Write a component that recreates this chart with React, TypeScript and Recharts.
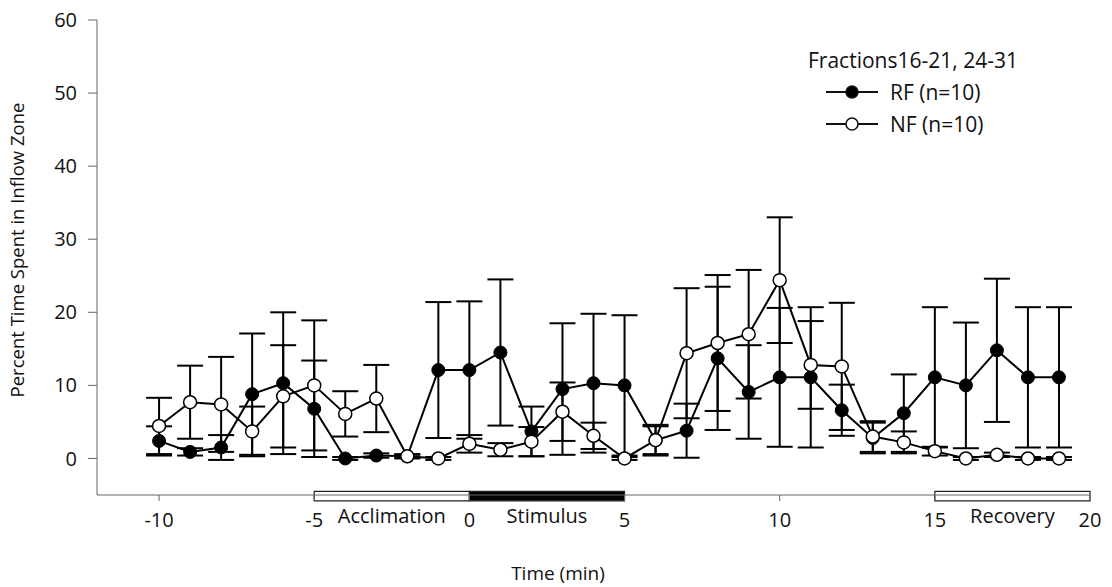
import React from "react";
import { ComposedChart, Line, XAxis, YAxis, ErrorBar, ReferenceArea, Legend } from "recharts";

const FONT = "'Open Sans', 'DejaVu Sans', sans-serif";

// time points (min)
const times = [-10, -9, -8, -7, -6, -5, -4, -3, -2, -1, 0, 1, 2, 3, 4, 5, 6, 7, 8, 9, 10, 11, 12, 13, 14, 15, 16, 17, 18, 19];

// RF group: mean and error
const rfMean = [2.4, 0.9, 1.5, 8.8, 10.3, 6.8, 0, 0.4, 0.3, 12.1, 12.1, 14.5, 3.7, 9.5, 10.3, 10.0, 2.5, 3.8, 13.7, 9.1, 11.1, 11.1, 6.6, 2.8, 6.2, 11.1, 10.0, 14.8, 11.1, 11.1];
const rfErr = [2.0, 0.5, 1.7, 8.3, 9.7, 6.6, 0.2, 0.3, 0.3, 9.3, 9.4, 10.0, 3.4, 9.0, 9.5, 9.6, 2.1, 3.7, 9.8, 6.4, 9.5, 9.6, 3.5, 2.1, 5.3, 9.6, 8.6, 9.8, 9.6, 9.6];

// NF group: mean and error
const nfMean = [4.45, 7.7, 7.4, 3.7, 8.5, 10.0, 6.1, 8.2, 0.3, 0.0, 2.0, 1.2, 2.3, 6.4, 3.1, 0.0, 2.5, 14.4, 15.8, 17.0, 24.4, 12.8, 12.6, 3.0, 2.2, 1.0, 0.0, 0.5, 0.0, 0.0];
const nfErr = [3.85, 5.0, 6.5, 3.4, 7.0, 8.9, 3.1, 4.6, 0.2, 0.2, 1.2, 0.9, 2.0, 4.0, 1.8, 0.2, 1.9, 8.9, 9.3, 8.8, 8.6, 6.0, 8.7, 2.1, 1.5, 0.6, 0.2, 0.3, 0.2, 0.2];

const xTicks = [-10, -5, 0, 5, 10, 15, 20];
const yTicks = [0, 10, 20, 30, 40, 50, 60];

// experiment phases drawn under the x axis
const periods = [
  { label: "Acclimation", start: -5, end: 0, fill: "#ffffff" },
  { label: "Stimulus", start: 0, end: 5, fill: "#000000" },
  { label: "Recovery", start: 15, end: 20, fill: "#ffffff" },
];

const legendTitle = "Fractions16-21, 24-31";
const seriesInfo = [
  { key: "rf", name: "RF (n=10)", fill: "#000000" },
  { key: "nf", name: "NF (n=10)", fill: "#ffffff" },
];

const data = times.map((t, i) => ({
  time: t,
  rf: rfMean[i],
  rfErr: rfErr[i],
  nf: nfMean[i],
  nfErr: nfErr[i],
}));

const renderLegend = () => (
  <div style={{ fontFamily: FONT, fontSize: 21, color: "#111", lineHeight: "32px" }}>
    <div>{legendTitle}</div>
    {seriesInfo.map((s) => (
      <div key={s.key} style={{ display: "flex", alignItems: "center", paddingLeft: 18 }}>
        <svg width={52} height={16}>
          <line x1={0} y1={8} x2={52} y2={8} stroke="#111" strokeWidth={2} />
          <circle cx={26} cy={8} r={6} fill={s.fill} stroke="#111" strokeWidth={1.5} />
        </svg>
        <span style={{ marginLeft: 12 }}>{s.name}</span>
      </div>
    ))}
  </div>
);

const periodLabel = (text: string) => (props: any) => {
  const vb = props.viewBox || {};
  return (
    <text
      x={vb.x + vb.width / 2}
      y={vb.y + vb.height + 22}
      textAnchor="middle"
      style={{ fontFamily: FONT, fontSize: 20, fill: "#111" }}
    >
      {text}
    </text>
  );
};

const App = () => {
  return (
    <div style={{ position: "absolute", left: 0, top: 0, background: "#fff" }}>
      <ComposedChart
        width={1112}
        height={587}
        data={data}
        margin={{ top: 20, right: 22, bottom: 52, left: 17 }}
      >
        <XAxis
          type="number"
          dataKey="time"
          domain={[-12, 20]}
          ticks={xTicks}
          height={40}
          tickSize={6}
          tickMargin={12}
          stroke="#666"
          tick={{ fill: "#111", fontSize: 20, fontFamily: FONT }}
          label={() => (
            <text x={558} y={580} textAnchor="middle" style={{ fontFamily: FONT, fontSize: 19, fill: "#111" }}>
              Time (min)
            </text>
          )}
        />
        <YAxis
          type="number"
          domain={[-5, 60]}
          ticks={yTicks}
          width={80}
          tickSize={9}
          tickMargin={11}
          stroke="#666"
          tick={{ fill: "#111", fontSize: 20, fontFamily: FONT }}
          label={() => (
            <text
              x={24}
              y={250}
              textAnchor="middle"
              transform="rotate(-90, 24, 250)"
              style={{ fontFamily: FONT, fontSize: 18.5, fill: "#111" }}
            >
              Percent Time Spent in Inflow Zone
            </text>
          )}
        />
        {periods.map((p) => (
          <ReferenceArea
            key={p.label}
            x1={p.start}
            x2={p.end}
            y1={-4.5}
            y2={-5.8}
            ifOverflow="visible"
            fill={p.fill}
            fillOpacity={1}
            stroke="#222"
            strokeWidth={1.2}
            label={periodLabel(p.label)}
          />
        ))}
        <Legend
          layout="vertical"
          align="center"
          verticalAlign="middle"
          content={renderLegend}
          wrapperStyle={{ left: 808, top: 44, width: 280 }}
        />
        <Line
          dataKey="rf"
          name="RF (n=10)"
          stroke="#000"
          strokeWidth={2}
          isAnimationActive={false}
          dot={{ r: 6.5, fill: "#000", stroke: "#000", strokeWidth: 1 }}
        >
          <ErrorBar dataKey="rfErr" width={13} stroke="#000" strokeWidth={2} direction="y" />
        </Line>
        <Line
          dataKey="nf"
          name="NF (n=10)"
          stroke="#000"
          strokeWidth={2}
          isAnimationActive={false}
          dot={{ r: 6.5, fill: "#fff", stroke: "#000", strokeWidth: 1.5 }}
        >
          <ErrorBar dataKey="nfErr" width={13} stroke="#000" strokeWidth={2} direction="y" />
        </Line>
      </ComposedChart>
    </div>
  );
};

export default App;
